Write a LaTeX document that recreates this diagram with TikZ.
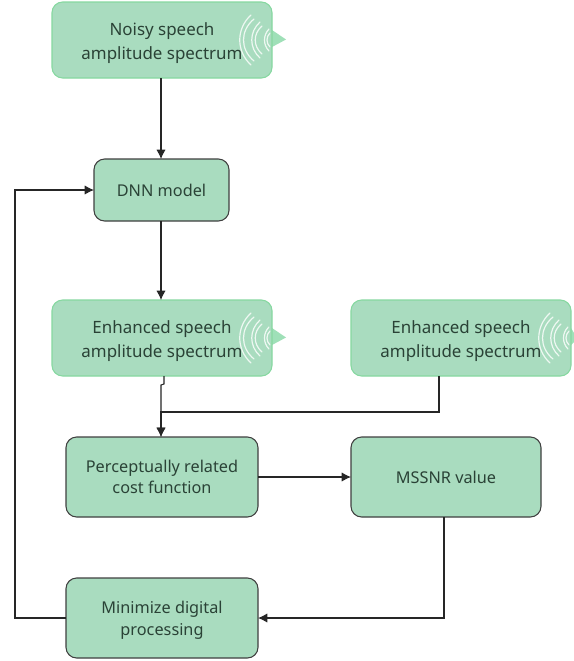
\documentclass[tikz,border=0pt]{standalone}
\usepackage{fontspec}
\setmainfont{Noto Sans}
\usetikzlibrary{arrows.meta}
\definecolor{boxgreen}{HTML}{A9DCBF}
\definecolor{brightedge}{HTML}{86D8A0}
\definecolor{inktext}{HTML}{2A4236}
\definecolor{tailgreen}{HTML}{9FE0B8}
\newcommand{\lowerfirst}{\rule{0pt}{14.5pt}}
\tikzset{
  x=0.75pt,y=-0.75pt,
  stepbox/.style={draw=#1,line width=0.8pt,fill=boxgreen,rounded corners=8pt,inner sep=0pt,align=center,text=inktext},
  bigtext/.style={font=\fontsize{12.7pt}{18pt}\selectfont},
  smalltext/.style={font=\fontsize{12.2pt}{16pt}\selectfont},
  flow/.style={draw=black!85,line width=0.8pt,-{Latex[length=7pt,width=7pt]}},
  wave/.style={draw=white!80!boxgreen,line width=0.9pt,line cap=round},
}
\newcommand{\boxat}[8]{%
  \node[stepbox=#7,#8,minimum width=#5*0.75pt,minimum height=#6*0.75pt] (#1) at ({#2+#5/2},{#3+#6/2}) {#4};}
\newcommand{\signal}[2]{%
  \foreach \l/\t/\h in {-35/-20/25,-31/-17/21,-22/-11/18,-18/-9/14,-8/-2/11,-5/-1/7}{
    \draw[wave] ({#1+\t},{#2-\h}) .. controls ({#1+\l},{#2-\h*0.45}) and ({#1+\l},{#2+\h*0.45}) .. ({#1+\t},{#2+\h});
  }}
\begin{document}
\begin{tikzpicture}
\useasboundingbox (0,0) rectangle (574,661);
\fill[white] (0,0) rectangle (574,661);
\fill[tailgreen] (272,30) -- (286,39.5) -- (272,47) -- cycle;
\fill[tailgreen] (272,328) -- (286,337.5) -- (272,345) -- cycle;
\fill[tailgreen] (571,328) -- (574,333) -- (574,342) -- (571,345) -- cycle;
\boxat{a}{52}{2}{\lowerfirst Noisy speech\\amplitude spectrum}{220}{76}{brightedge}{bigtext}
\boxat{d}{94}{159}{DNN model}{135}{62}{black!75}{smalltext}
\boxat{e}{52}{300}{\lowerfirst Enhanced speech\\amplitude spectrum}{220}{76}{brightedge}{bigtext}
\boxat{f}{351}{300}{\lowerfirst Enhanced speech\\amplitude spectrum}{220}{76}{brightedge}{bigtext}
\boxat{p}{66}{437}{Perceptually related\\cost function}{192}{80}{black!75}{smalltext}
\boxat{m}{351}{437}{MSSNR value}{190}{80}{black!75}{smalltext}
\boxat{q}{66}{578}{\rule{0pt}{12.5pt}Minimize digital\\processing}{192}{80}{black!75}{smalltext}
\signal{271}{40}
\signal{271}{338}
\signal{570}{338}
\coordinate (j1) at (164,376);
\coordinate (j2) at (164,384);
\coordinate (j3) at (161,385);
\coordinate (j4) at (161,412);
\coordinate (ea) at (161,78);
\coordinate (da) at (161,159);
\coordinate (db) at (161,221);
\coordinate (eb) at (161,300);
\coordinate (pa) at (161,437);
\coordinate (fb) at (439,376);
\coordinate (fc) at (439,412);
\coordinate (pr) at (258,477);
\coordinate (ml) at (351,477);
\coordinate (mb) at (444,517);
\coordinate (mc) at (444,618);
\coordinate (qr) at (258,618);
\coordinate (ql) at (66,618);
\coordinate (lo) at (15,618);
\coordinate (lu) at (15,190);
\coordinate (dl) at (94,190);
\draw[flow] (ea) -- (da);
\draw[flow] (db) -- (eb);
\draw[flow] (j1) -- (j2) -- (j3) -- (j4) -- (pa);
\draw[flow,line width=1.2pt] (fb) -- (fc) -- (j4) -- (pa);
\draw[flow] (pr) -- (ml);
\draw[flow] (mb) -- (mc) -- (qr);
\draw[flow] (ql) -- (lo) -- (lu) -- (dl);
\end{tikzpicture}
\end{document}
